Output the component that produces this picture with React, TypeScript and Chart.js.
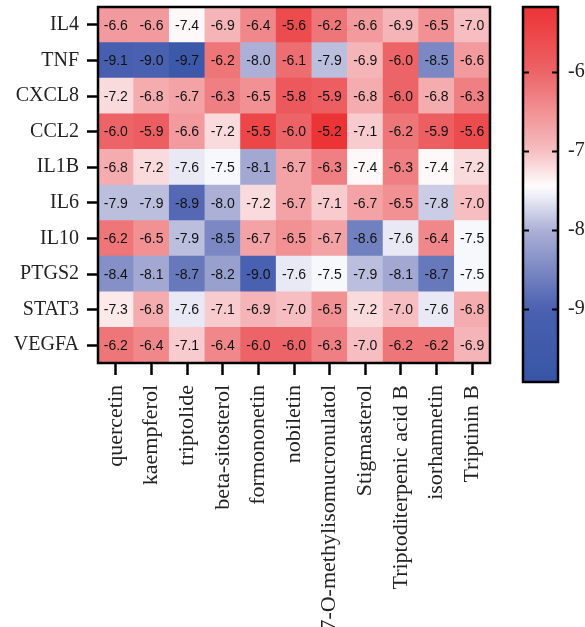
import React, { useEffect, useRef } from "react";
import { Chart, registerables } from "chart.js";
Chart.register(...registerables);

const genes = ["IL4", "TNF", "CXCL8", "CCL2", "IL1B", "IL6", "IL10", "PTGS2", "STAT3", "VEGFA"];
const compounds = [
  "quercetin", "kaempferol", "triptolide", "beta-sitosterol", "formononetin", "nobiletin",
  "7-O-methylisomucronulatol", "Stigmasterol", "Triptoditerpenic acid B", "isorhamnetin", "Triptinin B",
];
const IL4 = [-6.6, -6.6, -7.4, -6.9, -6.4, -5.6, -6.2, -6.6, -6.9, -6.5, -7.0];
const TNF = [-9.1, -9.0, -9.7, -6.2, -8.0, -6.1, -7.9, -6.9, -6.0, -8.5, -6.6];
const CXCL8 = [-7.2, -6.8, -6.7, -6.3, -6.5, -5.8, -5.9, -6.8, -6.0, -6.8, -6.3];
const CCL2 = [-6.0, -5.9, -6.6, -7.2, -5.5, -6.0, -5.2, -7.1, -6.2, -5.9, -5.6];
const IL1B = [-6.8, -7.2, -7.6, -7.5, -8.1, -6.7, -6.3, -7.4, -6.3, -7.4, -7.2];
const IL6 = [-7.9, -7.9, -8.9, -8.0, -7.2, -6.7, -7.1, -6.7, -6.5, -7.8, -7.0];
const IL10 = [-6.2, -6.5, -7.9, -8.5, -6.7, -6.5, -6.7, -8.6, -7.6, -6.4, -7.5];
const PTGS2 = [-8.4, -8.1, -8.7, -8.2, -9.0, -7.6, -7.5, -7.9, -8.1, -8.7, -7.5];
const STAT3 = [-7.3, -6.8, -7.6, -7.1, -6.9, -7.0, -6.5, -7.2, -7.0, -7.6, -6.8];
const VEGFA = [-6.2, -6.4, -7.1, -6.4, -6.0, -6.0, -6.3, -7.0, -6.2, -6.2, -6.9];
const rows = [IL4, TNF, CXCL8, CCL2, IL1B, IL6, IL10, PTGS2, STAT3, VEGFA];

const colorbarTicks = [-6, -7, -8, -9];
const colorbarRange = [-9.92, -5.18];

// colormap stops (value, rgb)
const cmapStops: [number, number[]][] = [
  [-9.9, [56, 86, 166]],
  [-9.0, [74, 96, 176]],
  [-8.0, [172, 176, 214]],
  [-7.45, [255, 255, 255]],
  [-7.0, [246, 190, 193]],
  [-6.0, [236, 100, 103]],
  [-5.2, [236, 52, 54]],
];

function colorFor(v: number): string {
  if (v <= cmapStops[0][0]) return rgb(cmapStops[0][1]);
  for (let i = 1; i < cmapStops.length; i++) {
    const [v1, c1] = cmapStops[i];
    const [v0, c0] = cmapStops[i - 1];
    if (v <= v1) {
      const t = (v - v0) / (v1 - v0);
      return rgb(c0.map((c, k) => c + (c1[k] - c) * t));
    }
  }
  return rgb(cmapStops[cmapStops.length - 1][1]);
}
function rgb(c: number[]) {
  return `rgb(${Math.round(c[0])},${Math.round(c[1])},${Math.round(c[2])})`;
}

const SERIF = "'Liberation Serif', 'DejaVu Serif', serif";
const SANS = "'Liberation Sans', Arial, sans-serif";

const zeroPad = (s: any) => {
  s.paddingTop = 0;
  s.paddingBottom = 0;
  s.paddingLeft = 0;
  s.paddingRight = 0;
};

const framePlugin = {
  id: "frame",
  afterDraw(chart: any) {
    const { ctx, chartArea } = chart;
    ctx.save();
    ctx.strokeStyle = "#000";
    ctx.lineWidth = 2.5;
    ctx.strokeRect(chartArea.left, chartArea.top, chartArea.right - chartArea.left, chartArea.bottom - chartArea.top);
    ctx.restore();
  },
};

const cellLabelPlugin = {
  id: "cellLabels",
  afterDatasetsDraw(chart: any) {
    const { ctx } = chart;
    ctx.save();
    ctx.font = `14px ${SANS}`;
    ctx.fillStyle = "#111";
    ctx.textAlign = "center";
    ctx.textBaseline = "middle";
    chart.data.datasets.forEach((ds: any, di: number) => {
      const meta = chart.getDatasetMeta(di);
      meta.data.forEach((el: any, i: number) => {
        const v = ds.values[i];
        ctx.fillText(v.toFixed(1), el.x, (el.y + el.base) / 2 + 1);
      });
    });
    ctx.restore();
  },
};

const colorbarPlugin = {
  id: "cbar",
  afterDraw(chart: any) {
    const { ctx, chartArea, scales } = chart;
    ctx.save();
    ctx.strokeStyle = "#000";
    ctx.lineWidth = 2.5;
    ctx.strokeRect(chartArea.left, chartArea.top, chartArea.right - chartArea.left, chartArea.bottom - chartArea.top);
    ctx.lineWidth = 2;
    colorbarTicks.forEach((t) => {
      const y = Math.round(scales.y.getPixelForValue(t)) + 0.5;
      ctx.beginPath();
      ctx.moveTo(chartArea.left, y);
      ctx.lineTo(chartArea.left + 6, y);
      ctx.moveTo(chartArea.right, y);
      ctx.lineTo(chartArea.right - 6, y);
      ctx.stroke();
    });
    ctx.restore();
  },
};

export default function App() {
  const mainRef = useRef<HTMLCanvasElement>(null);
  const barRef = useRef<HTMLCanvasElement>(null);

  useEffect(() => {
    const n = genes.length;
    const datasets = genes
      .map((g, gi) => ({
        label: g,
        values: rows[gi],
        data: rows[gi].map(() => 1),
        backgroundColor: rows[gi].map((v) => colorFor(v)),
        borderWidth: 0,
        barPercentage: 1,
        categoryPercentage: 1,
      }))
      .reverse();

    const main = new Chart(mainRef.current!, {
      type: "bar",
      data: { labels: compounds, datasets: datasets as any },
      options: {
        animation: false,
        responsive: false,
        maintainAspectRatio: false,
        layout: { padding: { top: 7, right: 10, left: 0, bottom: 0 } },
        plugins: { legend: { display: false }, tooltip: { enabled: false } },
        scales: {
          x: {
            stacked: true,
            grid: { drawOnChartArea: false, offset: false, tickLength: 12, tickWidth: 2.5, tickColor: "#000" },
            border: { display: false },
            ticks: {
              autoSkip: false,
              minRotation: 90,
              maxRotation: 90,
              padding: 10,
              color: "#222",
              font: { family: SERIF, size: 22 },
            },
            afterFit: (s: any) => {
              s.height = 627 - 363;
              zeroPad(s);
            },
          },
          y: {
            stacked: true,
            min: 0,
            max: n,
            grid: { drawOnChartArea: false, tickLength: 11, tickWidth: 2.5, tickColor: "#000" },
            border: { display: false },
            afterBuildTicks: (s: any) => {
              s.ticks = genes.map((_, i) => ({ value: n - 0.5 - i }));
            },
            ticks: {
              padding: 8,
              color: "#222",
              font: { family: SERIF, size: 20 },
              callback: (v: any) => genes[Math.round(n - 0.5 - Number(v))],
            },
            afterFit: (s: any) => {
              s.width = 98;
              zeroPad(s);
            },
          },
        },
      },
      plugins: [cellLabelPlugin, framePlugin],
    });

    const cbar = new Chart(barRef.current!, {
      type: "bar",
      data: {
        labels: [""],
        datasets: [
          {
            data: [colorbarRange as any],
            backgroundColor: (c: any) => {
              const { chart } = c;
              const { chartArea, scales } = chart;
              if (!chartArea) return "#fff";
              const y0 = scales.y.getPixelForValue(colorbarRange[0]);
              const y1 = scales.y.getPixelForValue(colorbarRange[1]);
              const g = chart.ctx.createLinearGradient(0, y0, 0, y1);
              const steps = 40;
              for (let i = 0; i <= steps; i++) {
                const v = colorbarRange[0] + ((colorbarRange[1] - colorbarRange[0]) * i) / steps;
                g.addColorStop(i / steps, colorFor(v));
              }
              return g;
            },
            borderWidth: 0,
            barPercentage: 1,
            categoryPercentage: 1,
          },
        ],
      },
      options: {
        animation: false,
        responsive: false,
        maintainAspectRatio: false,
        layout: { padding: { top: 7, left: 23, right: 0, bottom: 627 - 382 } },
        plugins: { legend: { display: false }, tooltip: { enabled: false } },
        scales: {
          x: { display: false },
          y: {
            position: "right",
            min: colorbarRange[0],
            max: colorbarRange[1],
            grid: { display: false, drawTicks: false, tickLength: 0 },
            border: { display: false },
            afterBuildTicks: (s: any) => {
              s.ticks = colorbarTicks.map((v) => ({ value: v }));
            },
            ticks: {
              padding: 10,
              color: "#222",
              font: { family: SERIF, size: 20 },
              callback: (v: any) => String(v),
            },
            afterFit: (s: any) => {
              s.width = 85 - 58;
              zeroPad(s);
            },
          },
        },
      },
      plugins: [colorbarPlugin],
    });

    return () => {
      main.destroy();
      cbar.destroy();
    };
  }, []);

  return (
    <div style={{ position: "fixed", left: 0, top: 0, width: 585, height: 627, background: "#fff" }}>
      <canvas ref={mainRef} width={500} height={627} style={{ position: "absolute", left: 0, top: 0, width: 500, height: 627 }} />
      <canvas ref={barRef} width={85} height={627} style={{ position: "absolute", left: 500, top: 0, width: 85, height: 627 }} />
    </div>
  );
}
